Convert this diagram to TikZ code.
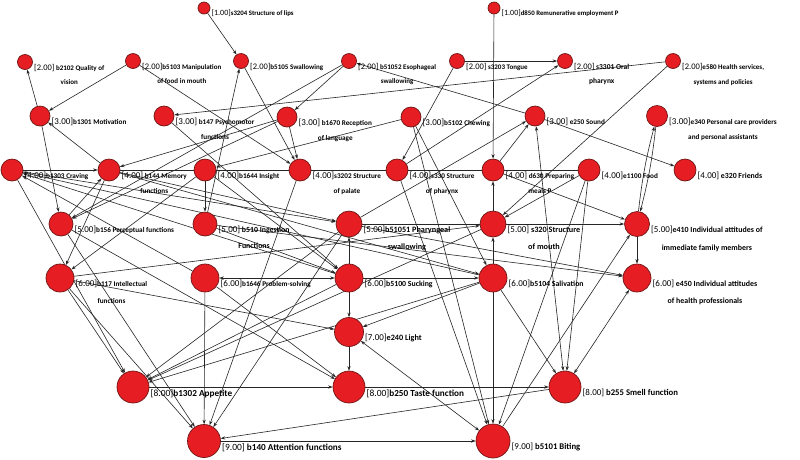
\documentclass[tikz,border=0pt]{standalone}
\usepackage{fontspec}
\setmainfont{Carlito}
\usetikzlibrary{arrows.meta,backgrounds,calc}
\definecolor{nodered}{RGB}{230,30,36}
\definecolor{noderim}{RGB}{110,20,20}
\tikzset{
 circ/.style={circle, fill=nodered, draw=noderim, line width=0.7pt, inner sep=0pt},
 lab/.style={anchor=north west, inner sep=0.5pt, align=center, text=black},
 edge/.style={line width=0.6pt, draw=black!85, -{Stealth[length=4.5pt,width=3.2pt]}},
 dedge/.style={line width=0.6pt, draw=black!85, {Stealth[length=4.5pt,width=3.2pt]}-{Stealth[length=4.5pt,width=3.2pt]}},
 pedge/.style={line width=0.6pt, draw=black!85},
}
\newcommand\nd[9]{%
 \node[circ, minimum size=#4pt] (#1) at (#2,#3) {};
 \node[lab, font=\fontsize{#5}{#7}\selectfont\bfseries] (#1l) at (#2+#4/2+1,#3+1.5) {{\fontsize{#6}{#7}\selectfont\mdseries[#8]}#9};}
\begin{document}
\begin{tikzpicture}[x=1pt,y=-1pt]
\useasboundingbox (0,0) rectangle (800,459);
% level 1
\nd{s3204}{204}{8}{12}{6.8}{8}{12}{1.00}{s3204 Structure of lips}
\nd{d850}{494}{8}{12}{6.8}{8}{12}{1.00}{d850 Remunerative employment P}
% level 2
\nd{b2102}{25}{62}{15}{7}{8.5}{14}{2.00}{ b2102 Quality of\\vision}
\nd{b5103}{133}{61}{15}{7}{8.5}{14}{2.00}{b5103 Manipulation\\of food in mouth}
\nd{b5105}{241}{61}{15}{7}{8.5}{14}{2.00}{b5105 Swallowing}
\nd{b51052}{349}{61}{15}{7}{8.5}{14}{2.00}{ b51052 Esophageal\\swallowing}
\nd{s3203}{457}{61}{15}{7}{8.5}{14}{2.00}{ s3203 Tongue}
\nd{s3301}{565}{61}{15}{7.5}{8.5}{14}{2.00}{ s3301 Oral\\pharynx}
\nd{e580}{673}{61}{15}{7}{8.5}{15}{2.00}{e580 Health services,\\systems and policies}
% level 3
\nd{b1301}{40}{116}{20}{7.2}{9}{15}{3.00}{b1301 Motivation}
\nd{b147}{164}{116}{20}{7.2}{9}{15}{3.00}{ b147 Psychomotor\\functions}
\nd{b1670}{287}{117}{20}{7.2}{9}{15}{3.00}{ b1670 Reception\\of language}
\nd{b5102}{411}{117}{20}{7.2}{9}{15}{3.00}{b5102 Chewing}
\nd{e250}{535}{116}{20}{7.2}{9}{15}{3.00}{ e250 Sound}
\nd{e340}{657}{116}{21}{7.2}{9}{15}{3.00}{e340 Personal care providers\\and personal assistants}
% level 4
\nd{b1303}{12}{170}{22}{7.2}{9}{15}{4.00}{b1303 Craving}
\nd{b144}{109}{170}{22}{7.2}{9}{15}{4.00}{ b144 Memory\\functions}
\nd{b1644}{205}{170}{22}{7.2}{9}{15}{4.00}{b1644 Insight}
\nd{s3202}{300}{170}{22}{7.2}{9}{15}{4.00}{s3202 Structure\\of palate}
\nd{s330}{397}{170}{22}{7.2}{9}{15}{4.00}{s330 Structure\\of pharynx}
\nd{d630}{493}{170}{22}{7.2}{9}{15}{4.00}{ d630 Preparing\\meals P}
\nd{e1100}{589}{170}{22}{7.2}{9}{15}{4.00}{e1100 Food}
\nd{e320}{685}{170}{22}{7.8}{9}{15}{4.00}{ e320 Friends}
% level 5
\nd{b156}{61}{224}{24}{7.2}{9}{16}{5.00}{b156 Perceptual functions}
\nd{b510}{205}{224}{24}{7.8}{9}{16}{5.00}{ b510 Ingestion\\Functions}
\nd{b51051}{349}{224}{26}{8.2}{9}{17}{5.00}{b51051 Pharyngeal\\swallowing}
\nd{s320}{493}{224}{26}{8.2}{9}{17}{5.00}{ s320 Structure\\of mouth}
\nd{e410}{637}{224}{25}{7.9}{9}{18}{5.00}{e410 Individual attitudes of\\immediate family members}
% level 6
\nd{b117}{60}{278}{28}{7.2}{9}{17}{6.00}{b117 Intellectual\\functions}
\nd{b1646}{205}{278}{28}{7.2}{9}{17}{6.00}{b1646 Problem-solving}
\nd{b5100}{349}{278}{28}{7.8}{9}{17}{6.00}{b5100 Sucking}
\nd{b5104}{493}{278}{28}{7.8}{9}{17}{6.00}{b5104 Salivation}
\nd{e450}{637}{278}{28}{7.9}{9}{17}{6.00}{ e450 Individual attitudes\\of health professionals}
% level 7
\nd{e240}{349}{332}{29}{8.2}{9}{17}{7.00}{e240 Light}
% level 8
\nd{b1302}{133}{387}{32}{9.2}{9.5}{17}{8.00}{b1302 Appetite}
\nd{b250}{349}{387}{32}{9.2}{9.5}{17}{8.00}{b250 Taste function}
\nd{b255}{565}{387}{32}{8.7}{9}{17}{8.00}{ b255 Smell function}
% level 9
\nd{b140}{204}{441}{33}{9.2}{9.5}{17}{9.00}{ b140 Attention functions}
\nd{b5101}{493}{441}{34}{8.7}{9}{17}{9.00}{ b5101 Biting}
\begin{scope}[on background layer]
\fill[white] (0,0) rectangle (800,459);
\foreach \a/\b in {s3204/b5105, d850/d630, b1301/b2102, b5103/b1301, b5103/s3202, b5105/s3202,
  b510/b5105, b51052/b1670, e250/b51052, s3203/s3301, s330/s3301, e580/b147, e580/s320,
  b144/b1301, b1301/b156, e250/e320, b1670/b156, b1670/b144, b1670/s3202, b147/b5100,
  b5102/b1644, b156/b144, b144/b117, b1644/b117, b1644/b510, b5102/b5104, b5102/b5101,
  b51051/e250, d630/e250, b1303/b144, d630/e410, s320/e410, s320/d630, b5104/s320,
  e1100/s320, e1100/b255, e1100/b5101, s330/b5101, b5101/e410, e410/e450, b51051/e450,
  b510/e450, b5100/b51051, b5100/e240, b5100/b5104, b117/s320, b117/e240,
  b117/b1302, b117/b140, b156/b140, b1646/b140, b1646/b1303, b5100/b1303, b5104/b1303,
  b1303/b1302, b51051/b1302, b5100/b1302, s320/b1302, b5104/b1302, b51051/b140,
  s3202/b140, b255/b140, b140/b5101, b1302/b250, b250/b255, e240/b250, b5104/e240,
  b5104/b5101, b5104/b255, b156/b250, b1646/b250, b144/b5104, b1303/b51051, b144/b51051,
  b510/b5100, b1644/b5100, s3203/s330, b51052/b156}
  \draw[edge] (\a) -- (\b);
\foreach \a/\b in {e250/b255, e450/b255, e240/b5101, b1646/b5100}
  \draw[dedge] (\a) -- (\b);
\foreach \a/\b in {b144/b1644, b1644/s3202, s3202/s330, s330/d630, d630/e1100, b51051/s320}
  \draw[pedge] (\a) -- (\b);
\draw[edge] (e340) to[bend left=4] (e410);
\draw[edge] (e410) to[bend left=4] (e340);
\end{scope}
\end{tikzpicture}
\end{document}
